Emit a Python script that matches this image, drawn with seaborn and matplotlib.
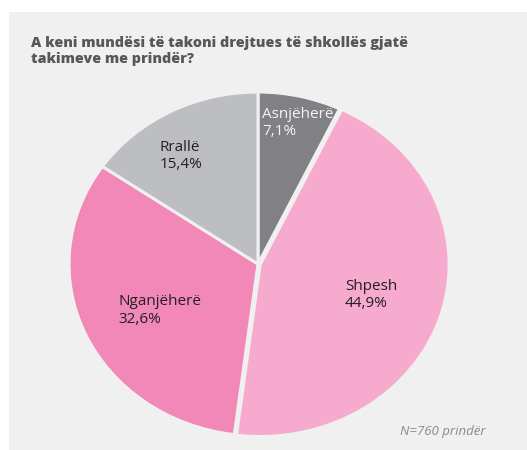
import seaborn as sns
import matplotlib.pyplot as plt
from matplotlib.patches import Rectangle

# data
categories = ["Asnjëherë", "Shpesh", "Nganjëherë", "Rrallë"]
shares = [7.1, 44.9, 32.6, 15.4]
share_labels = ["7,1%", "44,9%", "32,6%", "15,4%"]
colors = ["#818185", "#f6aacd", "#f188b7", "#bdbec1"]
text_colors = ["#f4f4f4", "#231f20", "#231f20", "#231f20"]
# label anchor (left edge, centre height) in pie units
label_pos = [(0.02, 0.82), (0.46, -0.18), (-0.74, -0.27), (-0.52, 0.63)]
explode = [0, 0.012, 0, 0]

title = "A keni mundësi të takoni drejtues të shkollës gjatë\ntakimeve me prindër?"
note = "N=760 prindër"

sns.set_theme(style="white")
plt.rcParams["font.family"] = ["Open Sans", "DejaVu Sans"]

bg = "#f0f0f0"
fig = plt.figure(figsize=(5.27, 4.5), dpi=100)
fig.patch.set_facecolor("white")
fig.patches.append(Rectangle((9 / 527, 0), 1 - 9 / 527, 438 / 450,
                             transform=fig.transFigure, facecolor=bg,
                             edgecolor="none", zorder=-10))

ax = fig.add_axes([69 / 527, 14 / 450, 378 / 527, 344 / 450])
ax.set_zorder(5)
ax.set_facecolor("none")
wedges, _ = ax.pie(shares, colors=colors, startangle=90, counterclock=False,
                   explode=explode,
                   wedgeprops=dict(edgecolor=bg, linewidth=2.2))
ax.set_aspect("auto")
ax.set_xlim(-1, 1)
ax.set_ylim(-1, 1)
ax.axis("off")
for w in wedges:
    w.set_clip_on(False)

for cat, lab, (x, y), tc in zip(categories, share_labels, label_pos, text_colors):
    ax.text(x, y, f"{cat}\n{lab}", ha="left", va="center",
            multialignment="left", fontsize=11, color=tc, linespacing=1.2)

fig.text(31 / 527, 1 - 51 / 450, title, ha="left", va="center", fontsize=10.3,
         fontweight="heavy", color="#58585c", linespacing=1.15)
fig.text(486 / 527, 1 - 432 / 450, note, ha="right", va="center", fontsize=9.5,
         style="italic", color="#8a8a8e")

fig.savefig("out.png", dpi=100, facecolor=fig.get_facecolor())
